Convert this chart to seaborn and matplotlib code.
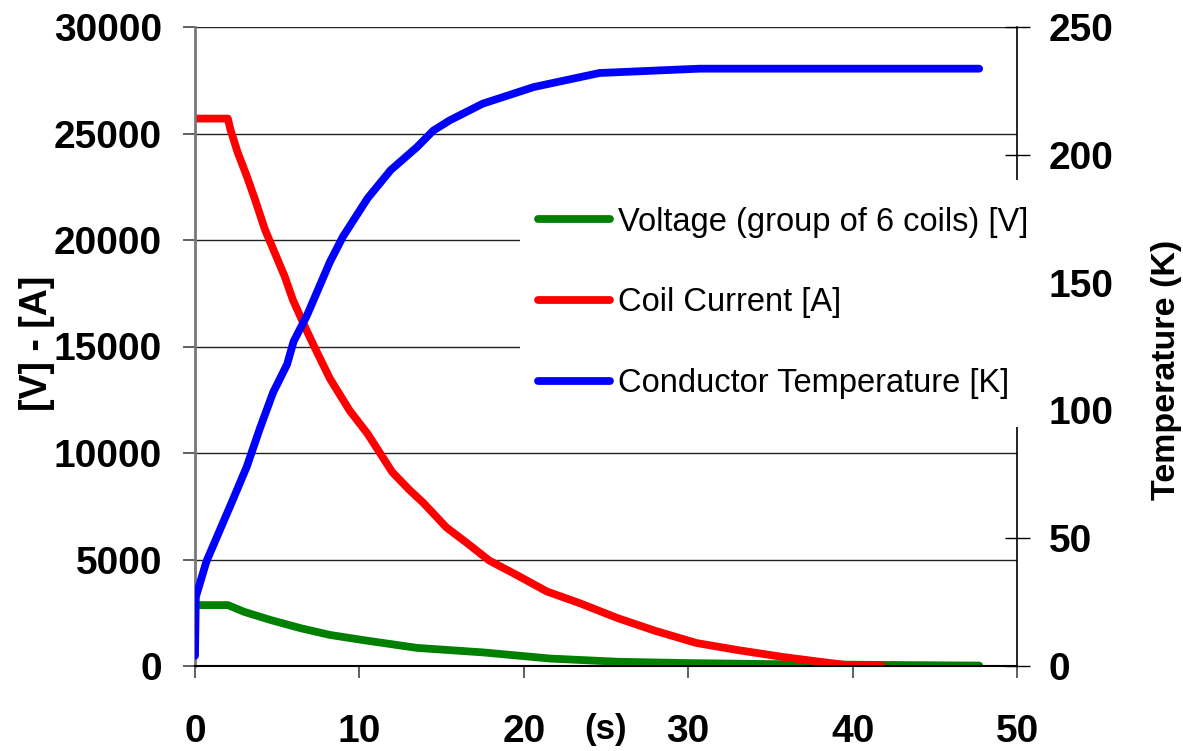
import matplotlib
matplotlib.use("Agg")
import matplotlib.pyplot as plt
import matplotlib.transforms as mtransforms
from matplotlib.lines import Line2D
from matplotlib.patches import Rectangle
import pandas as pd
import seaborn as sns

# Quench transient: voltage over a group of 6 coils, coil current, conductor temperature
time_voltage = [0, 2.0, 3.0, 4.6, 6.4, 8.2, 10.2, 13.5, 17.5, 21.6, 25.7, 29.7, 35.0, 41.8, 47.7]
voltage = [2860, 2860, 2540, 2160, 1780, 1460, 1220, 850, 640, 350, 200, 140, 90, 50, 20]

time_current = [0, 2.0, 2.15, 2.6, 3.15, 3.65, 4.25, 4.85, 5.45, 5.95, 6.7, 7.25, 8.2, 9.4,
                10.5, 11.25, 12.0, 13.0, 13.9, 15.3, 16.5, 17.9, 19.5, 21.4, 23.4, 25.7,
                28.0, 30.5, 33.0, 35.8, 38.0, 39.8, 41.8]
current = [25700, 25700, 25200, 24100, 23000, 21900, 20500, 19400, 18300, 17200, 15900,
           15000, 13500, 12000, 10900, 10000, 9100, 8300, 7650, 6500, 5800, 4950, 4300,
           3500, 2950, 2250, 1650, 1080, 750, 420, 200, 30, 0]

time_temp = [0, 0.05, 0.7, 1.5, 2.3, 3.15, 3.95, 4.75, 5.6, 6.0, 6.8, 7.4, 8.2, 9.0, 10.5,
             11.9, 13.5, 14.5, 15.5, 17.5, 20.6, 24.6, 30.7, 47.7]
temperature = [4, 27, 41, 53, 65, 78, 93, 107, 118, 127, 137, 146, 158, 168, 183, 194,
               203, 209.5, 213.5, 220, 226.5, 232, 233.7, 233.7]

series_labels = ["Voltage (group of 6 coils) [V]", "Coil Current [A]", "Conductor Temperature [K]"]
series_colors = ["#008000", "#ff0000", "#0000ff"]

x_ticks = [0, 10, 20, 30, 40, 50]
left_ticks = [0, 5000, 10000, 15000, 20000, 25000, 30000]
right_ticks = [0, 50, 100, 150, 200, 250]

sns.set_theme(style="white")
plt.rcParams["font.family"] = ["Liberation Sans", "DejaVu Sans"]
plt.rcParams["text.color"] = "black"

fig = plt.figure(figsize=(11.83, 7.51), dpi=100)
fig.patch.set_facecolor("white")
ax = fig.add_axes([195 / 1183, 1 - 666 / 751, 822 / 1183, 639 / 751])
ax2 = ax.twinx()

df_v = pd.DataFrame({"t": time_voltage, "value": voltage})
df_c = pd.DataFrame({"t": time_current, "value": current})
df_t = pd.DataFrame({"t": time_temp, "value": temperature})

lw = 5.6
sns.lineplot(data=df_v, x="t", y="value", ax=ax, color=series_colors[0], lw=lw,
             sort=False, estimator=None, legend=False)
sns.lineplot(data=df_c, x="t", y="value", ax=ax, color=series_colors[1], lw=lw,
             sort=False, estimator=None, legend=False)
sns.lineplot(data=df_t, x="t", y="value", ax=ax2, color=series_colors[2], lw=lw,
             sort=False, estimator=None, legend=False)

ax.set_xlim(0, 50)
ax.set_ylim(0, 30000)
ax2.set_ylim(0, 250)
ax.set_xticks(x_ticks)
ax.set_yticks(left_ticks)
ax2.set_yticks(right_ticks)
ax.set_xticklabels([str(v) for v in x_ticks])
ax.set_yticklabels([str(v) for v in left_ticks])
ax2.set_yticklabels([str(v) for v in right_ticks])

ax.grid(axis="y", color="#222222", lw=1.0)
ax.grid(axis="x", visible=False)
ax2.grid(False)

for side in ["top", "right"]:
    ax.spines[side].set_visible(False)
for side in ["top", "left", "bottom"]:
    ax2.spines[side].set_visible(False)
ax.spines["left"].set_color("#777777")
ax.spines["left"].set_linewidth(2.0)
ax.spines["bottom"].set_color("black")
ax.spines["bottom"].set_linewidth(1.5)
ax2.spines["right"].set_color("black")
ax2.spines["right"].set_linewidth(1.2)

ax.tick_params(axis="y", left=True, direction="out", length=8.6, width=1.2,
               color="#444444", pad=15, labelsize=28, labelcolor="black")
ax.tick_params(axis="x", bottom=True, direction="out", length=8.6, width=1.2,
               color="#444444", pad=26, labelsize=28, labelcolor="black")
ax2.tick_params(axis="y", right=True, direction="inout", length=18, width=1.0,
                color="black", pad=14, labelsize=28, labelcolor="black")
for lab in ax.get_xticklabels() + ax.get_yticklabels() + ax2.get_yticklabels():
    lab.set_fontweight("bold")

ax.set_xlabel("")
ax.set_ylabel("[V] - [A]", fontsize=27, fontweight="bold", color="black")
ax.yaxis.set_label_coords(-0.17, 0.505)
ax2.set_ylabel("Temperature (K)", fontsize=24.5, fontweight="bold", color="black")
ax2.yaxis.set_label_coords(1.163, 0.463)

trans = mtransforms.blended_transform_factory(ax.transData, ax.transAxes)
ax.text(25, -0.1, "(s)", transform=trans, ha="center", va="center",
        fontsize=25, fontweight="bold", color="black")

# white backing panel behind the legend, hiding grid lines and the right spine there
panel = Rectangle((520 / 1183, 1 - 427 / 751), 515 / 1183, 247 / 751,
                  transform=fig.transFigure, facecolor="white", edgecolor="none",
                  zorder=9, clip_on=False)
ax2.add_artist(panel)

handles = [Line2D([0], [0], color=c, lw=lw, solid_capstyle="round") for c in series_colors]
leg = ax2.legend(handles, series_labels, loc="upper left",
                 bbox_to_anchor=(511 / 1183, 1 - 180 / 751), bbox_transform=fig.transFigure,
                 frameon=False, fontsize=23.5, handlelength=2.2, handletextpad=0.25,
                 labelspacing=1.52, borderpad=0.82, borderaxespad=0)
leg.set_zorder(10)
for txt in leg.get_texts():
    txt.set_color("black")

fig.savefig("out.png", dpi=100, facecolor="white")
